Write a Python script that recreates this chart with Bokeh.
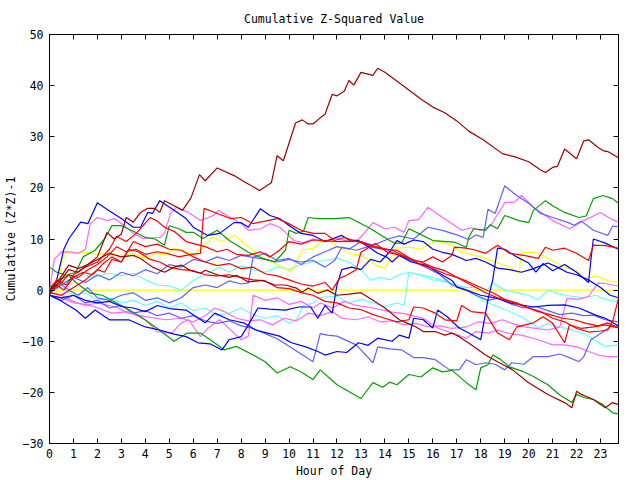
from bokeh.plotting import figure
from bokeh.models import LinearAxis, FixedTicker, Range1d, CustomLabelingPolicy
from bokeh.embed import file_html
from bokeh.resources import INLINE

TITLE = "Cumulative Z-Squared Value"
X_LABEL = "Hour of Day"
Y_LABEL = "Cumulative (Z*Z)-1"
x_ticks = list(range(24))
y_ticks = [-30, -20, -10, 0, 10, 20, 30, 40, 50]

RED = "#ff0000"; GREEN = "#00a000"; BLUE = "#0000ff"; PINK = "#ff66ff"
CYAN = "#66ffff"; DRED = "#a00000"; YELLOW = "#ffff00"; LBLUE = "#6060ff"

dr1_h = [0, 0.4, 0.8, 1.2, 1.6, 2.0, 2.4, 2.7, 3.0, 3.2, 3.5, 3.8, 4.1, 4.4, 4.6, 4.8, 5.2, 5.55, 5.9, 6.26, 6.5, 7.0, 7.7, 8.2, 8.77, 9.26, 9.5, 9.76, 10.27, 10.55, 10.8, 11.0, 11.3, 11.5, 11.8, 12.0, 12.3, 12.5, 12.7, 13.0, 13.5, 13.7, 14.0, 14.9, 15.5, 16.0, 16.5, 17.0, 17.5, 18.1, 18.9, 19.4, 20.0, 20.5, 20.7, 21.0, 21.2, 21.5, 22.0, 22.3, 22.5, 22.9, 23.1, 23.3, 23.75]
dr1_v = [0, 1.5, 4, 3.5, 5, 6.5, 11.3, 10, 11, 14.2, 13.3, 15.2, 16, 16, 15.2, 17.5, 16.5, 15.6, 18, 22.6, 21.4, 23.9, 22.4, 21, 19.5, 21, 26.3, 25.3, 32.7, 33.3, 32.5, 32.5, 33.7, 34.4, 38.3, 38, 38.9, 41, 40.1, 42.6, 42, 43.4, 42.6, 39.5, 37.4, 35.8, 34.7, 33.1, 31.1, 29.4, 26.7, 26.1, 25.1, 23.5, 23, 24, 24.2, 27.6, 25.7, 29.2, 29.4, 27.9, 27.3, 27.1, 25.9]

dr2_h = [0, 0.4, 0.8, 1.2, 1.6, 2.0, 2.5, 3.0, 3.5, 3.8, 4.3, 4.8, 5.2, 5.5, 5.9, 6.3, 6.5, 7.0, 7.5, 7.8, 8.3, 8.9, 9.4, 9.85, 10.3, 10.55, 10.8, 11.2, 11.6, 12.0, 12.5, 13.0, 13.5, 14.0, 14.6, 14.9, 15.3, 15.6, 16.1, 16.5, 16.8, 17.1, 17.6, 18.2, 18.7, 19.3, 20.0, 20.8, 21.5, 21.8, 22.0, 22.2, 22.7, 23.2, 23.5, 23.75]
dr2_v = [0, 2, 4.9, 4.2, 5, 6, 7.2, 6.5, 6.8, 6.2, 4.5, 3.5, 4.5, 4.9, 3.8, 3.3, 3.9, 3.0, 2.5, 2.9, 1.6, 1.9, 1, 1, 0.4, -0.4, 0.4, -0.6, 0, -1.0, -0.8, -0.5, -2, -3.5, -5.8, -6.4, -7.2, -8.1, -8.1, -8.8, -8.4, -9.1, -10.7, -12.7, -14, -15.5, -18.1, -20.4, -22, -23, -19.8, -20.4, -21.4, -23, -22, -22.4]

g1_h = [0, 0.3, 0.7, 1.1, 1.4, 1.9, 2.3, 2.6, 3.0, 3.5, 4.0, 4.4, 4.8, 5.0, 5.4, 5.7, 6.0, 6.4, 7.0, 7.5, 8.3, 8.9, 9.4, 9.85, 10.0, 10.3, 10.6, 10.8, 11.2, 11.9, 12.5, 13.3, 14.2, 14.4, 14.7, 15.0, 15.4, 16.0, 16.9, 17.4, 17.5, 17.7, 18.2, 18.4, 18.7, 19.0, 19.6, 20.0, 20.2, 20.7, 21.0, 21.5, 22.1, 22.4, 22.7, 23.1, 23.5, 23.75]
g1_v = [4.5, 3.5, 2.9, 3.5, 6.5, 7.8, 10, 12.6, 12.6, 11.5, 10.3, 10.0, 8.8, 12.6, 12.0, 11.3, 11.3, 10.1, 11.7, 9.7, 7.4, 6.2, 5.5, 7.8, 11.7, 11.1, 11.5, 14.2, 14, 14, 14.2, 12.3, 9.7, 9.2, 9.2, 12, 11.1, 9.7, 9.4, 8.4, 10.3, 12, 11.7, 12.8, 12, 14.6, 13.6, 13.2, 15.6, 17.5, 16.5, 15.2, 14.2, 14.5, 17.9, 18.5, 17.9, 17]

g2_h = [0, 0.4, 0.8, 1.1, 1.7, 2.2, 2.8, 3.3, 3.8, 4.5, 5.2, 5.75, 6.3, 6.8, 7.3, 7.8, 8.5, 9.0, 9.5, 10.05, 10.5, 11.0, 11.3, 12.0, 13.0, 13.5, 13.9, 14.2, 14.5, 15.0, 15.5, 16.0, 16.4, 16.8, 17.4, 17.8, 18.0, 18.3, 18.5, 18.8, 19.2, 19.8, 20.2, 20.8, 21.3, 21.8, 22.0, 22.3, 22.7, 23.1, 23.5, 23.75]
g2_v = [0.5, 2, 2.9, 1.5, -0.6, -1, -2.5, -3.8, -5.2, -7.5, -10, -8.4, -8.4, -10, -11.7, -11, -12.7, -14, -16.2, -15, -16, -17.5, -15.6, -18.5, -21.2, -18.1, -19, -18, -18.5, -16.5, -17, -15.2, -16, -15.7, -18.1, -19.5, -15.2, -14.6, -12.7, -13.5, -15, -16, -16.9, -18.5, -20.5, -22, -20.4, -21, -21.4, -22.4, -24, -24.2]

b1_h = [0, 0.3, 0.6, 0.8, 1.3, 1.6, 2.0, 2.5, 3.0, 3.5, 3.8, 4.1, 4.3, 4.6, 5.2, 5.7, 6.0, 6.6, 7.1, 7.7, 8.0, 8.3, 8.8, 9.2, 9.6, 10.1, 10.5, 11.0, 11.5, 12.2, 12.5, 12.9, 13.3, 13.7, 14.1, 14.3, 14.6, 15.1, 15.7, 16.2, 16.8, 17.0, 17.4, 18.0, 18.6, 19.2, 20.2, 20.8, 21.5, 22.1, 22.8, 23.2, 23.75]
b1_v = [-1, 2, 8, 10, 13.3, 13, 17.1, 15.5, 14, 12.3, 12.3, 15.2, 15, 17.5, 15.6, 14, 12.3, 10.7, 11.1, 13.2, 13.2, 12.3, 15.9, 14.6, 14, 12.3, 11.1, 10.7, 9.5, 10.7, 9.8, 9.7, 8.5, 7.2, 6.4, 5.5, 6.8, 5.5, 4.9, 3.5, 1.9, 0.6, 0, -1.0, -1.5, -2.5, -3.3, -3.0, -2.9, -3.5, -4.9, -5.5, -7.0]

b2_h = [0, 0.5, 1.0, 1.5, 2.0, 2.5, 3.0, 3.5, 4.0, 4.5, 5.0, 5.7, 6.5, 6.9, 7.5, 8.1, 8.6, 9.1, 9.6, 10.1, 10.7, 11.2, 11.5, 12.0, 12.4, 12.9, 13.3, 13.7, 14.3, 14.6, 15.0, 15.2, 15.6, 16.0, 16.2, 16.6, 17.1, 17.5, 18.0, 18.3, 18.5, 18.7, 19.0, 19.5, 20.0, 20.3, 20.6, 21.0, 21.5, 22.0, 22.5, 22.6, 22.7, 23.2, 23.75]
b2_v = [-1, -1.5, -1.0, -2, -2.5, -2.2, -3.2, -3.5, -4.2, -3.0, -3.6, -3.9, -6.4, -4.5, -5.8, -6.4, -7.8, -8.4, -9.0, -10.3, -11.1, -12, -12.7, -12.0, -12.2, -10.3, -10.8, -9.4, -10, -8.8, -9.4, -5.5, -5.8, -7.4, -3.9, -5.2, -7.4, -8.4, -9.7, -1.9, 2, 8.2, 8.0, 6.5, 5.3, 3.5, 5.2, 3.8, 5.0, 3.5, 1.5, 6, 10, 9.2, 8.0]

b3_h = [0, 0.4, 1.1, 1.5, 1.9, 2.5, 3.3, 4.0, 4.6, 5.2, 5.7, 6.2, 6.7, 7.2, 7.5, 8.0, 8.3, 8.7, 9.2, 9.85, 10.4, 10.9, 11.2, 11.5, 11.8, 12.0, 12.2, 12.6, 13.0, 13.4, 13.8, 14.2, 14.5, 14.8, 15.2, 15.6, 16.0, 16.4, 16.8, 17.4, 17.8, 18.2, 18.7, 19.2, 19.7, 20.2, 20.8, 21.2, 21.6, 22.0, 22.5, 23.0, 23.4, 23.75]
b3_v = [-1, -1.9, -3.9, -5.5, -3.9, -5.8, -5.8, -7.2, -7.8, -8.6, -9.1, -10.3, -10.5, -11.7, -9.7, -9.1, -6.8, -3.5, -3.7, -3.9, -3.3, -3.3, -5.5, -3, -4.5, 1, 4, 4.5, 4.0, 6.0, 5.5, 7.5, 9.7, 9.0, 9.8, 9.5, 8.0, 7.4, 7.0, 5.8, 6.2, 5.5, 4.3, 4.0, 3.5, 4.2, 5.3, 4.5, 3.5, 3.0, 2.0, 0.5, -1.0, -1.5]

lb1_h = [0, 0.5, 1, 1.5, 2, 2.5, 3, 3.5, 4, 4.5, 5, 5.5, 6, 6.5, 7, 7.5, 8, 8.5, 9, 9.5, 10, 10.5, 11, 11.5, 12, 12.5, 13, 13.5, 14.2, 14.6, 15.2, 15.8, 16.4, 17.0, 17.5, 17.8, 18.1, 18.3, 18.6, 19.0, 19.5, 20.0, 20.5, 21.0, 21.6, 21.9, 22.2, 22.7, 23.3, 23.5, 23.75]
lb1_v = [-0.5, 1, 2.5, 1.5, 3, 2, 3.5, 2.8, 4, 3.2, 5, 4.5, 6, 5.5, 6.5, 5.8, 6.8, 6.4, 7.2, 5.8, 6.2, 5, 6.5, 7.5, 8.5, 8, 9.5, 8.8, 10.1, 10.6, 10, 12.3, 11.7, 10.8, 9.9, 10.8, 10.3, 15.8, 15, 20.4, 18.5, 17, 15, 14.2, 13.3, 12.7, 13.5, 11.7, 10.7, 12.5, 12.4]

lb2_h = [0, 0.5, 1, 1.5, 2, 2.5, 3, 3.5, 4, 4.5, 5, 5.5, 6, 6.5, 7, 7.5, 8, 8.5, 9, 9.5, 10, 10.5, 11, 11.3, 11.6, 12.0, 12.8, 13.5, 13.7, 14.2, 14.7, 15.2, 15.6, 16.1, 16.7, 17.1, 17.4, 17.8, 18.2, 18.6, 19.0, 19.3, 19.8, 20.2, 20.8, 21.3, 21.7, 22.1, 22.3, 22.6, 23.0, 23.4, 23.75]
lb2_v = [-1, -2, -1, -2.5, -2, -3.5, -3, -4.5, -4, -5, -4.5, -5.5, -5, -6, -6.5, -6, -7, -7.5, -8.5, -9.5, -11, -12.5, -14, -8.5, -8.8, -9.0, -10.7, -14.2, -11.1, -11.5, -11.7, -13.2, -13.2, -13.6, -15.6, -15.6, -13.6, -14.6, -14.2, -14.5, -15.6, -14.2, -14.5, -13, -13, -12.5, -13.2, -14, -13, -9.7, -8.5, -7.2, -7]

lb3_h = [0, 0.4, 0.8, 1.2, 1.6, 2, 2.5, 3, 3.5, 4, 4.5, 5, 5.5, 6, 6.5, 7, 7.5, 8, 8.3, 8.5, 9, 9.5, 10, 10.5, 11, 11.5, 11.9, 12.2, 12.8, 13.3, 14.1, 14.6, 15.2, 15.7, 16.3, 16.8, 17.4, 17.8, 18.3, 18.8, 19.3, 19.8, 20.3, 20.8, 21.3, 21.8, 22.3, 22.7, 23.2, 23.75]
lb3_v = [-1, 1.5, 0, -1, 0.5, -1.5, -2, -1, -0.5, -2, -1.5, -2.5, -1.5, 0.5, 1, 0.5, 1.8, 1.2, 1.4, 6.4, 6, 5.5, 6, 5.5, 5.8, 4.5, 5.8, 8.4, 7.8, 8.5, 7.8, 6.8, 5.5, 4.5, 3, 1, 0, -1, -2, -1.5, -2.8, -3.5, -3.2, -4.0, -4.8, -4.5, -5.0, -4.9, -5.8, -6.2]

c1_h = [0, 0.5, 1, 1.2, 1.8, 2.5, 3, 3.5, 4, 4.5, 5, 5.5, 6, 6.6, 7.1, 7.5, 8, 8.5, 9, 9.5, 10, 10.5, 11, 11.5, 12, 12.5, 13, 13.4, 13.8, 14.2, 14.6, 15, 15.5, 16, 16.5, 17, 17.4, 17.8, 18.2, 18.5, 19, 19.5, 20, 20.4, 20.8, 21.3, 21.8, 22.3, 22.8, 23.2, 23.75]
c1_v = [0, 1.5, 2.5, 3.3, 2.5, 3.3, 2.8, 3.3, 2, 1, 0.8, 0, 1.9, 3.3, 4.5, 3.5, 4.8, 4, 3.5, 4.5, 4, 5, 5.5, 5.8, 6.2, 5.5, 4, 1.9, 2.5, 2, 3, 3.5, 3, 2.5, 1.8, 1, 0.5, 0.6, -0.5, 1.4, 0, -0.5, -1, -1.9, 0, -0.8, -1.2, -1.5, -1.0, -1.8, -2.3]

c2_h = [0, 0.5, 1, 1.5, 2, 2.5, 3, 3.5, 4, 4.5, 5, 5.5, 6, 6.5, 7, 7.5, 8, 8.5, 9, 9.5, 10, 10.3, 10.6, 11, 11.3, 12, 12.5, 13, 13.5, 14, 14.5, 14.8, 15.0, 15.4, 16, 16.6, 17.2, 17.6, 18.3, 19, 19.7, 20.4, 20.8, 21.3, 21.8, 22.3, 22.7, 23.2, 23.75]
c2_v = [-0.5, 0.5, -1, -0.5, -2, -1.5, -2.5, -2.0, -3, -2.2, -3.5, -2.5, -4, -3.5, -5, -4.5, -3.5, -4.8, -5.5, -5.0, -6.5, -5.8, -3, -2.5, -1.4, -1.2, -2.5, -1.8, -2.5, -3.2, -2.5, -3, 3.5, 3.0, 2, 1.5, 0.5, -0.5, -2.5, -3.8, -5.2, -7.4, -6.5, -7.2, -7.8, -8.5, -9.7, -11, -10.7]

p1_h = [0, 0.2, 0.5, 0.9, 1.2, 1.5, 1.7, 2.0, 2.4, 2.7, 3.1, 3.5, 3.9, 4.6, 4.8, 5.05, 5.3, 5.8, 6.3, 6.85, 7.05, 7.55, 8.0, 8.3, 8.8, 9.2, 9.6, 9.9, 10.2, 10.6, 11.0, 11.5, 12.0, 12.5, 12.9, 13.2, 13.5, 14.0, 14.4, 14.8, 15.0, 15.4, 15.8, 16.1, 16.6, 17.2, 17.6, 18.0, 18.4, 19.0, 19.4, 19.7, 20.2, 21.0, 21.7, 22.0, 22.3, 23.0, 23.4, 23.75]
p1_v = [0, 6, 7.5, 7.5, 7.2, 8, 13, 14.2, 13.6, 14, 12.7, 11.1, 10.1, 10.3, 11.1, 15, 16.2, 15.2, 13.6, 14.6, 15.6, 14.2, 13, 11.7, 12, 13, 12.3, 11.1, 9.7, 9.3, 10, 9.5, 10.2, 9.5, 9.9, 11.5, 13.2, 12, 12.3, 11.3, 13.6, 13.8, 16.2, 15.2, 13.6, 11.7, 12.2, 11.7, 12.5, 17.1, 17.2, 18.5, 16.2, 13.6, 12, 12.8, 13.6, 15.2, 14, 13.3]

p2_h = [0, 0.5, 1, 1.5, 1.9, 2.6, 3.3, 4, 4.5, 5.1, 5.5, 5.8, 6.3, 6.6, 7.1, 7.7, 8, 8.3, 8.5, 9, 9.5, 10, 10.5, 11, 11.3, 11.8, 12.3, 12.8, 13.3, 14.3, 14.8, 15.6, 16.2, 16.8, 17.4, 17.8, 18.3, 18.7, 19.2, 19.7, 20.4, 21, 21.5, 22, 22.5, 22.9, 23.3, 23.75]
p2_v = [-1, -1.5, -2.5, -2.8, -3.3, -4.5, -4.2, -5.8, -8.1, -8.4, -6.4, -5.8, -9.1, -7.5, -5.8, -8.4, -9.7, -9.0, -1, -2, -1.5, -2.8, -2.2, -3.5, -2.5, -3.5, -2.2, -3, -3.3, -4.3, -4.6, -5.5, -7.4, -8.4, -9.4, -8.1, -8.4, -7.8, -8.5, -8.8, -9.7, -10.7, -10.7, -11.1, -12, -12.7, -13, -13]

p3_h = [0, 0.5, 1, 1.5, 2, 2.75, 3.3, 4, 4.85, 5.5, 6, 6.5, 6.9, 7.3, 7.8, 8.3, 8.8, 9.3, 9.8, 10.3, 10.8, 11.3, 11.8, 12.2, 12.8, 13.3, 13.8, 14.3, 14.8, 15.3, 15.8, 16.3, 16.8, 17.4, 17.9, 18.4, 18.9, 19.3, 19.8, 20.3, 20.8, 21.3, 21.6, 22.1, 22.5, 22.9, 23.3, 23.75]
p3_v = [-0.5, -1, -2.2, -3, -2.5, -3.3, -4.5, -5.2, -5.8, -5.5, -6.2, -5, -3.5, -4.2, -5.5, -6, -5.8, -6.8, -5.5, -6, -4.5, -5, -4.2, -5.5, -5.8, -5.2, -6.2, -6, -6.8, -6.5, -7.2, -7, -7.5, -7.2, -6.2, -6.5, -5.8, -6.5, -7.2, -7.5, -7.8, -7.2, -1.6, -1.8, -1.2, 1.4, 1.2, 0.8]

y1_h = [0, 0.3, 0.5, 0.67, 1, 1.5, 2, 2.5, 3, 3.5, 4, 4.5, 4.8, 5.2, 5.55, 6, 6.4, 6.8, 7.2, 7.75, 8.3, 8.9, 9.5, 10.1, 10.55, 11, 11.4, 11.7, 12.0, 12.5, 13, 13.6, 14, 14.3, 14.5, 15, 15.5, 16.1, 16.8, 17.2, 17.6, 18.2, 18.7, 19.2, 19.6, 19.7, 20.3, 20.8, 21.5, 22, 22.4, 22.8, 23.3, 23.75]
y1_v = [0, -0.5, 5, 7.4, 7.2, 7.4, 7.0, 7.2, 6.6, 7.2, 6.2, 7.2, 6.8, 8.2, 7.8, 6.8, 8.4, 10.3, 9.5, 10.7, 8.5, 6.2, 5, 3.5, 7.8, 8.2, 9.7, 9.5, 8.6, 7.2, 6.8, 4.9, 4.3, 6.8, 8.2, 8.4, 8.0, 9.7, 8.8, 7.4, 7.0, 6.2, 5.3, 4.5, 3.3, 7.4, 7.4, 6.2, 4.5, 3.8, 2.3, 2.8, 1.8, 1.5]

y0_h = [0, 23.75]
y0_v = [0, 0]

r1_h = [0, 0.3, 0.7, 1, 1.5, 2, 2.5, 2.8, 3.2, 3.6, 4.2, 4.5, 4.8, 5.2, 5.7, 6.1, 6.5, 7, 7.4, 7.8, 8.3, 8.8, 9.2, 9.6, 10, 10.5, 11, 11.5, 12, 12.5, 13, 13.5, 14, 14.5, 15.2, 15.6, 16, 16.4, 16.8, 16.9, 17.4, 17.8, 18.2, 18.7, 19.2, 19.8, 20.4, 20.7, 21, 21.5, 22, 22.5, 22.7, 23.2, 23.75]
r1_v = [0, 2, 1, 3, 4.5, 5.5, 8, 10.5, 9.5, 11, 14.2, 13.5, 12.3, 11.5, 9.5, 9, 8.5, 7.5, 8, 7, 6.8, 7.5, 6.5, 7.8, 9.5, 9, 9.8, 9.7, 9.5, 9.6, 9.5, 8.5, 8, 7.8, 5.8, 5.5, 6.5, 5.5, 6.8, 8.4, 8.2, 7.8, 7.2, 8.8, 7.2, 6.8, 6.2, 8.4, 7.8, 8.2, 7.2, 5.8, 8.8, 8.7, 8.2]

r2_h = [0, 0.3, 0.6, 1, 1.4, 1.8, 2.2, 2.6, 3, 3.5, 4, 4.5, 5, 5.5, 6, 6.5, 7, 7.5, 8, 8.5, 9, 9.5, 10, 10.5, 11, 11.5, 11.8, 12.1, 12.4, 12.8, 13.0, 13.6, 14.1, 14.5, 15, 15.5, 16, 16.5, 17, 17.4, 18, 18.5, 19, 19.5, 20, 20.5, 21, 21.5, 22, 22.5, 23, 23.3, 23.5, 23.75]
r2_v = [-0.5, 1, 0, 2.5, 3.5, 3, 5, 6.5, 5.5, 9.5, 8.5, 9, 8, 7.8, 6.5, 5.5, 4.8, 5.2, 4.2, 4.5, 3.2, 2.8, 2, 1.2, 0.8, 1.5, 0, 2.3, 2.9, 4, 7.4, 9.1, 7.4, 7.0, 6.2, 5.5, 4.5, 3.8, 2.5, 1.8, 0.5, -0.5, -1.8, -2.5, -3.5, -4.2, -5.5, -6.2, -7.5, -8.2, -8.0, -7.8, -6.2, -1.6]

r3_h = [0, 0.5, 1, 1.5, 2, 2.3, 2.6, 3, 3.3, 3.7, 4.2, 4.6, 5, 5.5, 6, 6.5, 7, 7.5, 8, 8.5, 9, 9.5, 10, 10.5, 11, 11.5, 12, 12.5, 13, 13.5, 14, 14.5, 15, 15.2, 15.6, 16.1, 16.5, 17, 17.2, 17.6, 18.2, 18.7, 19.2, 19.5, 20.2, 20.6, 21, 21.5, 21.7, 22.2, 22.7, 23.2, 23.75]
r3_v = [-0.5, -1, 0.5, 2, 4, 3.5, 6, 5.5, 8, 7.5, 6, 5.5, 4.5, 4.0, 3.8, 3, 2.8, 3, 2.5, 2, 1.8, 0.5, 0.3, -0.5, -1, -2.2, -2.5, -3.5, -3.8, -4.8, -5.5, -6.2, -5.8, -3.3, -3.5, -4.5, -5.8, -6, -3, -4.2, -4.5, -8.4, -9.7, -7.2, -6.4, -5.2, -6.5, -10.3, -6.8, -7.5, -7.2, -6.8, -7.4]

r4_h = [0, 0.4, 0.8, 1.2, 1.6, 2, 2.4, 2.8, 3.2, 3.6, 4, 4.5, 4.9, 5.4, 5.9, 6.3, 6.45, 7, 7.55, 8, 8.5, 9.1, 9.5, 9.9, 10.5, 11, 11.5, 11.9, 12.3, 13.3, 14.3, 15, 15.5, 16, 16.5, 17, 17.4, 17.8, 18.2, 18.7, 19.2, 19.8, 20.4, 20.9, 21.4, 21.9, 22.4, 22.9, 23.3, 23.75]
r4_v = [-0.5, 1, 3, 2.5, 4, 5, 6.5, 8.5, 7.5, 8, 7, 7.5, 7.2, 6.5, 7.0, 7.2, 16, 15, 14, 14.2, 13, 13.6, 14, 13.2, 11.7, 11.1, 11.1, 9.7, 10.3, 8.8, 7.8, 6.2, 5, 4.2, 3.2, 2.5, 1.5, 0.5, -0.5, -1.5, -2.2, -3.2, -4.2, -4.8, -5.5, -5.8, -6.5, -7.0, -6.4, -7.4]

series = [
    (y0_h, y0_v, YELLOW),
    (c1_h, c1_v, CYAN), (c2_h, c2_v, CYAN),
    (y1_h, y1_v, YELLOW),
    (p1_h, p1_v, PINK), (p2_h, p2_v, PINK), (p3_h, p3_v, PINK),
    (lb1_h, lb1_v, LBLUE), (lb2_h, lb2_v, LBLUE), (lb3_h, lb3_v, LBLUE),
    (g1_h, g1_v, GREEN), (g2_h, g2_v, GREEN),
    (b1_h, b1_v, BLUE), (b2_h, b2_v, BLUE), (b3_h, b3_v, BLUE),
    (r1_h, r1_v, RED), (r2_h, r2_v, RED), (r3_h, r3_v, RED), (r4_h, r4_v, RED),
    (dr1_h, dr1_v, DRED), (dr2_h, dr2_v, DRED),
]

FONT = "DejaVu Sans Mono"
FS = "11.5px"

p = figure(width=640, height=480, output_backend="svg", toolbar_location=None,
           x_range=Range1d(0, 23.75), y_range=Range1d(-30, 50),
           min_border_left=49, min_border_right=22, min_border_top=33, min_border_bottom=36,
           title=TITLE, background_fill_color="white", border_fill_color="white")

for xs, ys, c in series:
    p.line(xs, ys, line_color=c, line_width=1.2)

p.xgrid.visible = False
p.ygrid.visible = False
p.outline_line_color = "black"
p.outline_line_width = 1

p.title.text_font = FONT
p.title.text_font_size = FS
p.title.text_font_style = "normal"
p.title.text_color = "black"
p.title.align = "center"
p.title.standoff = 18

for ax, ticks in ((p.xaxis[0], x_ticks), (p.yaxis[0], y_ticks)):
    ax.ticker = FixedTicker(ticks=ticks)
    ax.major_tick_in = 5
    ax.major_tick_out = 0
    ax.minor_tick_line_color = None
    ax.axis_line_color = None
    ax.major_tick_line_color = "black"
    ax.major_label_text_font = FONT
    ax.major_label_text_font_size = FS
    ax.major_label_text_color = "black"
    ax.axis_label_text_font = FONT
    ax.axis_label_text_font_size = FS
    ax.axis_label_text_font_style = "normal"
    ax.axis_label_text_color = "black"

p.xaxis.axis_label = X_LABEL
p.yaxis.axis_label = Y_LABEL
p.xaxis.major_label_standoff = 5
p.xaxis.axis_label_standoff = 3
p.yaxis.major_label_standoff = 6
p.yaxis.axis_label_standoff = 2

hide_all = CustomLabelingPolicy(code="for (const i of indices) { indices.unset(i) }\nreturn indices")
for loc, ticks in (("right", y_ticks), ("above", x_ticks)):
    ax = LinearAxis(ticker=FixedTicker(ticks=ticks), major_tick_in=5, major_tick_out=0,
                    minor_tick_line_color=None, axis_line_color=None,
                    major_label_text_font_size="0px", major_label_standoff=0,
                    major_label_policy=hide_all,
                    major_tick_line_color="black")
    p.add_layout(ax, loc)

open("out.html", "w").write(file_html(p, INLINE))
